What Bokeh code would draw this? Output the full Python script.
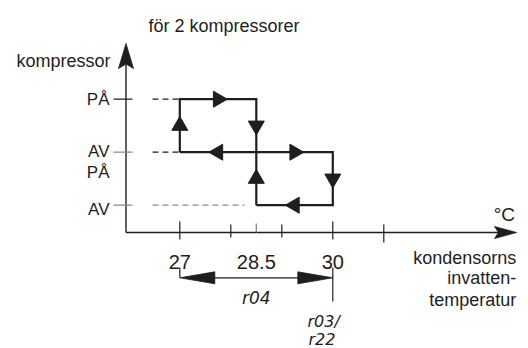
import math
from bokeh.plotting import figure
from bokeh.models import Range1d
from bokeh.core.properties import value
from bokeh.embed import file_html
from bokeh.resources import INLINE

# ---------------- data ----------------
level_values = [2, 1, 1, 0]                  # PÅ (comp 1), AV (comp 1), PÅ (comp 2), AV (comp 2)
level_labels = ["PÅ", "AV", "PÅ", "AV"]
guide_levels = [2, 1, 0]
guide_ends = [27, 27, 28.5]
temp_ticks = [27, 28, 29, 30, 31]
mid_tick = 28.5
temp_label_values = [27, 28.5, 30]
temp_labels = ["27", "28.5", "30"]
comp1_x = [27, 27, 28.5, 28.5, 27]
comp1_y = [1, 2, 2, 1, 1]
comp2_x = [28.5, 28.5, 30, 30, 28.5]
comp2_y = [0, 1, 1, 0, 0]
flow_x = [27, 27.75, 28.5, 27.75, 29.25, 30, 29.25, 28.5]
flow_y = [1.5, 2, 1.5, 1, 1, 0.5, 0, 0.5]
flow_dir = ["up", "right", "down", "left", "right", "down", "left", "up"]
r04_from, r04_to = 27, 30
param_r04 = "r04"
param_r03 = ["r03/", "r22"]
title_text = "för 2 kompressorer"
y_title = "kompressor"
x_unit = "°C"
x_title = ["kondensorns", "invatten-", "temperatur"]

# ---------------- layout (pixel mapping) ----------------
W, H = 528, 348
X27_PX, PX_PER_C = 179.3, 51.0
L0_PY, PX_PER_L = 204.7, 53.0

def tx(px):
    return 27 + (px - X27_PX) / PX_PER_C

def ly(py):
    return (L0_PY - py) / PX_PER_L

p = figure(width=W, height=H, output_backend="svg", toolbar_location=None,
           x_range=Range1d(tx(0), tx(W)), y_range=Range1d(ly(H), ly(0)),
           min_border=0, outline_line_color=None)
p.axis.visible = False
p.grid.visible = False
p.background_fill_color = "white"
p.border_fill_color = "white"

INK = "#1e1e1e"
GRAY = "#8a8a8a"
FONT = "Liberation Sans"

ax_x = tx(125.5)
ax_y = ly(232)

def head(tip_x, tip_y, direction, length_px, width_px, notch=0.2):
    dx = {"up": 0, "down": 0, "left": -1, "right": 1}[direction]
    dy = {"up": 1, "down": -1, "left": 0, "right": 0}[direction]
    lx = length_px / PX_PER_C
    ly_ = length_px / PX_PER_L
    wx = width_px / 2 / PX_PER_C
    wy = width_px / 2 / PX_PER_L
    bx, by = tip_x - dx * lx, tip_y - dy * ly_
    nx, ny = tip_x - dx * lx * (1 - notch), tip_y - dy * ly_ * (1 - notch)
    px_ = abs(dy) * wx
    py_ = abs(dx) * wy
    return ([tip_x, bx + px_, nx, bx - px_], [tip_y, by + py_, ny, by - py_])

# axes
y_tip = ly(43)
x_tip = tx(516)
p.line([ax_x, ax_x], [ax_y, y_tip - 20 / PX_PER_L], line_color=INK, line_width=1.4)
p.line([ax_x, x_tip - 18 / PX_PER_C], [ax_y, ax_y], line_color=INK, line_width=1.4)
hx1, hy1 = head(ax_x, y_tip, "up", 25, 15, 0.18)
hx2, hy2 = head(x_tip, ax_y, "right", 22, 12, 0.18)
p.patches([hx1, hx2], [hy1, hy2], fill_color=INK, line_color=INK, line_width=0.8)

# y ticks
tick_colors = [INK, GRAY, GRAY]
for lv, c in zip(guide_levels, tick_colors):
    p.line([tx(113), tx(132)], [lv, lv], line_color=c, line_width=1.3)

# dashed guides
for lv, end in zip(guide_levels, guide_ends):
    stop = end if end == 27 else end - 0.23
    p.line([tx(152), stop], [lv, lv], line_color=INK if lv > 0 else GRAY,
           line_width=1.3, line_dash="6 4")

# x ticks
for t in temp_ticks:
    if t in (27, 30):
        y0, y1 = ly(221), ly(239)
    elif t == 31:
        y0, y1 = ly(224), ly(242)
    else:
        y0, y1 = ly(224), ly(237)
    p.line([t, t], [y0, y1], line_color=INK, line_width=1.2)
p.line([mid_tick, mid_tick], [ly(223), ax_y], line_color=GRAY, line_width=1.4)

# hysteresis loops
p.line(comp1_x, comp1_y, line_color=INK, line_width=2.2, line_join="miter")
p.line(comp2_x, comp2_y, line_color=INK, line_width=2.2, line_join="miter")
angles = {"up": 0.0, "right": -math.pi / 2, "down": math.pi, "left": math.pi / 2}
p.scatter(flow_x, flow_y, marker="triangle", size=16,
          angle=[angles[d] for d in flow_dir], fill_color=INK, line_color=INK)

# r04 dimension
dim_y = ly(277.3)
p.line([r04_from, r04_from], [ly(267), dim_y], line_color=INK, line_width=1.2)
p.line([r04_to, r04_to], [ly(267), ly(301)], line_color=INK, line_width=1.2)
p.line([r04_from + 0.5, r04_to - 0.5], [dim_y, dim_y], line_color=INK, line_width=1.3)
ax1, ay1 = head(r04_from, dim_y, "left", 35, 12, 0.0)
ax2, ay2 = head(r04_to, dim_y, "right", 35, 12, 0.0)
p.patches([ax1, ax2], [ay1, ay2], fill_color=INK, line_color=INK, line_width=0.8)

# texts
p.text([tx(148)], [ly(25.5)], text=[title_text], text_font=value(FONT),
       text_font_size="18px", text_color=INK, text_baseline="alphabetic", text_align="left")
p.text([tx(110)], [ly(60)], text=[y_title], text_font=value(FONT),
       text_font_size="18px", text_color=INK, text_baseline="alphabetic", text_align="right")
lab_offsets = [0, -1, 20, 4.5]
p.text([tx(109)] * 4, level_values, text=level_labels, y_offset=lab_offsets,
       text_font=value(FONT), text_font_size="17px", text_color=INK,
       text_baseline="alphabetic", text_align="right")
p.text(temp_label_values, [ly(261.7)] * 3, text=temp_labels, text_font=value(FONT),
       text_font_size="20px", text_color=INK, text_baseline="alphabetic", text_align="center")
p.text([tx(514.5)], [ly(214)], text=[x_unit], text_font=value(FONT),
       text_font_size="19px", text_color=INK, text_baseline="alphabetic", text_align="right")
p.text([tx(515.7)] * 3, [ly(257.3), ly(277.3), ly(299.5)], text=x_title,
       text_font=value(FONT), text_font_size="18px", text_color=INK,
       text_baseline="alphabetic", text_align="right")
p.text([(r04_from + r04_to) / 2], [ly(297)], text=[param_r04], text_font=value("DejaVu Sans"),
       text_font_style="italic", text_font_size="17px", text_color=INK,
       text_baseline="alphabetic", text_align="center")
p.text([tx(307), tx(308)], [ly(321), ly(339)], text=param_r03, text_font=value("DejaVu Sans"),
       text_font_style="italic", text_font_size="16px", text_color=INK,
       text_baseline="alphabetic", text_align="left")

open("out.html", "w").write(file_html(p, INLINE))
